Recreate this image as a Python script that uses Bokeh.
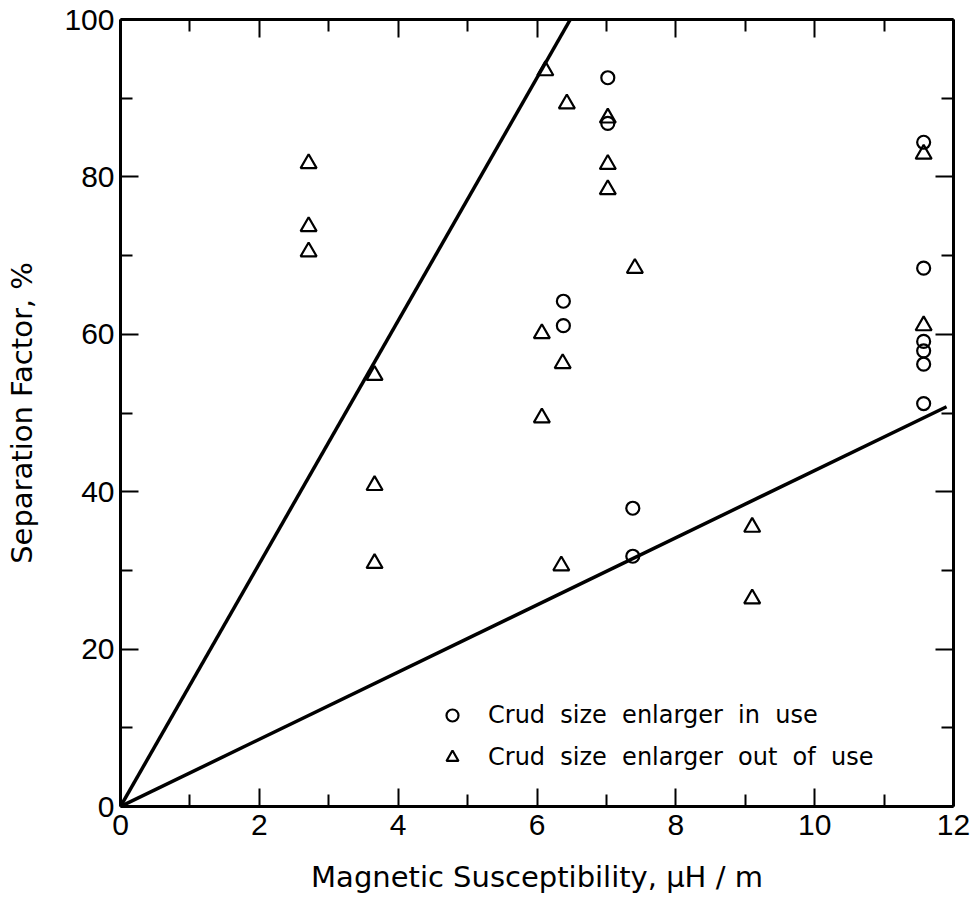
from bokeh.plotting import figure
from bokeh.models import (Range1d, LinearAxis, FixedTicker, CustomJSTickFormatter,
                          Legend, LegendItem)
from bokeh.embed import file_html
from bokeh.resources import INLINE

# ---- data ----
in_use_x = [7.02, 7.02, 6.38, 6.38, 7.38, 7.38, 11.57, 11.57, 11.57, 11.57, 11.57, 11.57]
in_use_y = [92.6, 86.8, 64.2, 61.1, 37.9, 31.8, 84.4, 68.4, 59.1, 57.9, 56.2, 51.2]

out_use_x = [2.71, 2.71, 2.71, 3.66, 3.66, 3.66, 6.12, 6.43, 7.02, 7.02, 7.02, 7.41,
             6.07, 6.37, 6.07, 6.35, 9.10, 9.10, 11.57, 11.57]
out_use_y = [81.7, 73.7, 70.5, 54.8, 40.8, 30.9, 93.5, 89.3, 87.5, 81.6, 78.4, 68.4,
             60.1, 56.3, 49.4, 30.6, 35.5, 26.4, 82.9, 61.1]

upper_line_x = [0, 6.48]
upper_line_y = [0, 100]
lower_line_x = [0, 11.9]
lower_line_y = [0, 50.8]

x_major = [0, 2, 4, 6, 8, 10, 12]
x_minor = [1, 3, 5, 7, 9, 11]
y_major = [0, 20, 40, 60, 80, 100]
y_minor = [10, 30, 50, 70, 90]

x_title = "Magnetic Susceptibility, μH / m"
y_title = "Separation Factor, %"
label_in = "Crud  size  enlarger  in  use"
label_out = "Crud  size  enlarger  out  of  use"

TICK_FONT = "Liberation Sans"
TITLE_FONT = "DejaVu Sans"

p = figure(width=973, height=913, output_backend="svg", toolbar_location=None,
           x_range=Range1d(0, 12), y_range=Range1d(0, 100),
           min_border_left=120, min_border_right=20, min_border_top=19,
           min_border_bottom=107, x_axis_location=None, y_axis_location=None)
p.grid.visible = False
p.outline_line_color = None
p.background_fill_color = "white"
p.border_fill_color = "white"

xt = FixedTicker(ticks=x_major, minor_ticks=x_minor)
yt = FixedTicker(ticks=y_major, minor_ticks=y_minor)
blank = CustomJSTickFormatter(code="return ''")


def style(ax):
    ax.axis_line_width = 3
    ax.axis_line_color = "black"
    ax.major_tick_in = 18
    ax.major_tick_out = 0
    ax.minor_tick_in = 12
    ax.minor_tick_out = 0
    ax.major_tick_line_width = 2
    ax.minor_tick_line_width = 2
    ax.major_tick_line_color = "black"
    ax.minor_tick_line_color = "black"


bottom = LinearAxis(ticker=xt, axis_label=x_title)
style(bottom)
bottom.major_label_text_font = TICK_FONT
bottom.major_label_text_font_size = "30px"
bottom.major_label_text_color = "black"
bottom.major_label_standoff = 8
bottom.axis_label_text_font = TITLE_FONT
bottom.axis_label_text_font_size = "29px"
bottom.axis_label_text_font_style = "normal"
bottom.axis_label_text_color = "black"
bottom.axis_label_standoff = 22
p.add_layout(bottom, "below")

left = LinearAxis(ticker=yt, axis_label=y_title)
style(left)
left.major_label_text_font = TICK_FONT
left.major_label_text_font_size = "30px"
left.major_label_text_color = "black"
left.major_label_standoff = 6
left.axis_label_text_font = TITLE_FONT
left.axis_label_text_font_size = "29px"
left.axis_label_text_font_style = "normal"
left.axis_label_text_color = "black"
left.axis_label_standoff = 22
p.add_layout(left, "left")

top = LinearAxis(ticker=xt, formatter=blank)
style(top)
top.major_label_standoff = 0
p.add_layout(top, "above")

right = LinearAxis(ticker=yt, formatter=blank)
style(right)
right.major_label_standoff = 0
p.add_layout(right, "right")

p.line(upper_line_x, upper_line_y, line_color="black", line_width=3.5)
p.line(lower_line_x, lower_line_y, line_color="black", line_width=3.5)

r_in = p.scatter(in_use_x, in_use_y, marker="circle", size=13, fill_color="white",
                 fill_alpha=0, line_color="black", line_width=2.2)
r_out = p.scatter(out_use_x, out_use_y, marker="triangle", size=16, fill_color="white",
                  fill_alpha=0, line_color="black", line_width=2.2)

legend = Legend(items=[LegendItem(label=label_in, renderers=[r_in]),
                       LegendItem(label=label_out, renderers=[r_out])],
                location=(317, 34), orientation="vertical",
                glyph_width=30, glyph_height=30, label_height=30, spacing=12,
                label_standoff=21, padding=0, margin=0,
                border_line_color=None, background_fill_alpha=0,
                label_text_font=TITLE_FONT, label_text_font_size="24px",
                label_text_color="black")
p.add_layout(legend, "center")

open("out.html", "w").write(file_html(p, INLINE))
